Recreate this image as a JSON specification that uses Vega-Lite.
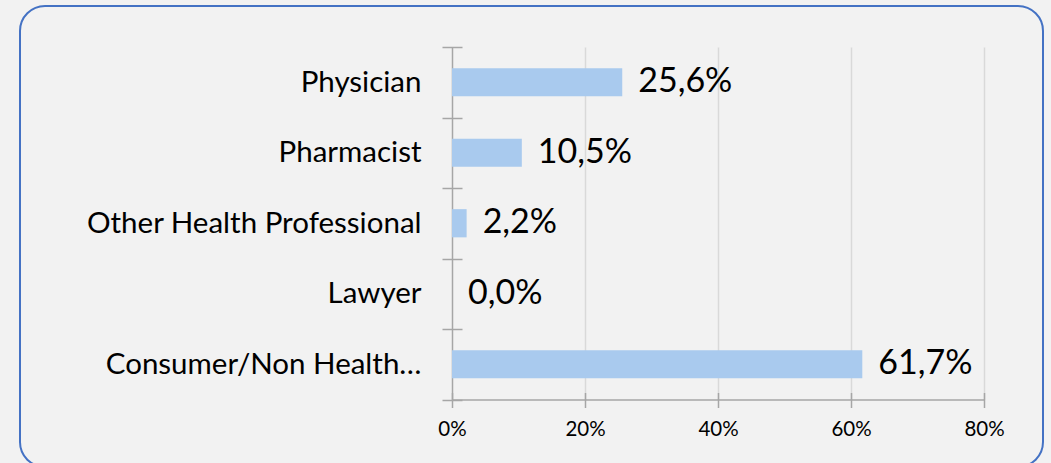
{
  "$schema": "https://vega.github.io/schema/vega-lite/v6.json",
  "width": 1023,
  "height": 461,
  "autosize": {"type": "none"},
  "padding": {"left": 20, "top": 6, "right": 8, "bottom": 0},
  "background": "#f2f2f2",
  "data": {
    "values": [
      {"category": "Physician", "share": 0.256},
      {"category": "Pharmacist", "share": 0.105},
      {"category": "Other Health Professional", "share": 0.022},
      {"category": "Lawyer", "share": 0.0},
      {"category": "Consumer/Non Health…", "share": 0.617}
    ]
  },
  "encoding": {
    "y": {
      "field": "category",
      "type": "nominal",
      "sort": null,
      "scale": {"range": [41, 393.5], "paddingInner": 0, "paddingOuter": 0},
      "axis": {
        "title": null,
        "orient": "left",
        "offset": -442,
        "domain": false,
        "tickBand": "extent",
        "tickSize": 20,
        "tickColor": "#a6a6a6",
        "tickWidth": 1.5,
        "labelPadding": 21,
        "labelFont": "Lato",
        "labelFontSize": 29.5,
        "labelColor": "#000000",
        "labelLimit": 500,
        "grid": false
      }
    }
  },
  "layer": [
    {
      "mark": {"type": "bar", "color": "#a9caee", "height": {"band": 0.4}},
      "encoding": {
        "x": {
          "field": "share",
          "type": "quantitative",
          "scale": {"domain": [0, 0.8], "range": [432, 964], "nice": false},
          "axis": {
            "title": null,
            "orient": "bottom",
            "offset": -67.5,
            "values": [0, 0.2, 0.4, 0.6, 0.8],
            "format": ".0%",
            "domain": true,
            "domainColor": "#a6a6a6",
            "domainWidth": 1.5,
            "tickColor": "#a6a6a6",
            "tickWidth": 1.5,
            "tickSize": 8,
            "labelPadding": 12,
            "labelFlush": false,
            "labelFont": "Lato",
            "labelFontSize": 20.5,
            "labelColor": "#000000",
            "grid": false
          }
        }
      }
    },
    {
      "mark": {"type": "text", "align": "left", "baseline": "middle", "dx": 16, "font": "Lato", "fontSize": 34, "color": "#000000"},
      "encoding": {
        "x": {
          "field": "share",
          "type": "quantitative",
          "axis": {
            "title": null,
            "orient": "top",
            "offset": -386.5,
            "values": [0, 0.2, 0.4, 0.6, 0.8],
            "domain": false,
            "ticks": true,
            "tickSize": -7,
            "tickColor": "#a6a6a6",
            "tickWidth": 1.5,
            "labels": false,
            "grid": true,
            "gridColor": {"condition": {"test": "datum.value === 0", "value": "#a6a6a6"}, "value": "#d9d9d9"},
            "gridWidth": 1.5
          }
        },
        "text": {"field": "share", "type": "quantitative", "format": ".1%"}
      }
    }
  ],
  "resolve": {"axis": {"x": "independent"}},
  "config": {
    "view": {"stroke": "#4472c4", "strokeWidth": 2, "cornerRadius": 25, "fill": "#f2f2f2"},
    "locale": {"number": {"decimal": ",", "thousands": ".", "grouping": [3], "currency": ["", " €"]}}
  }
}
